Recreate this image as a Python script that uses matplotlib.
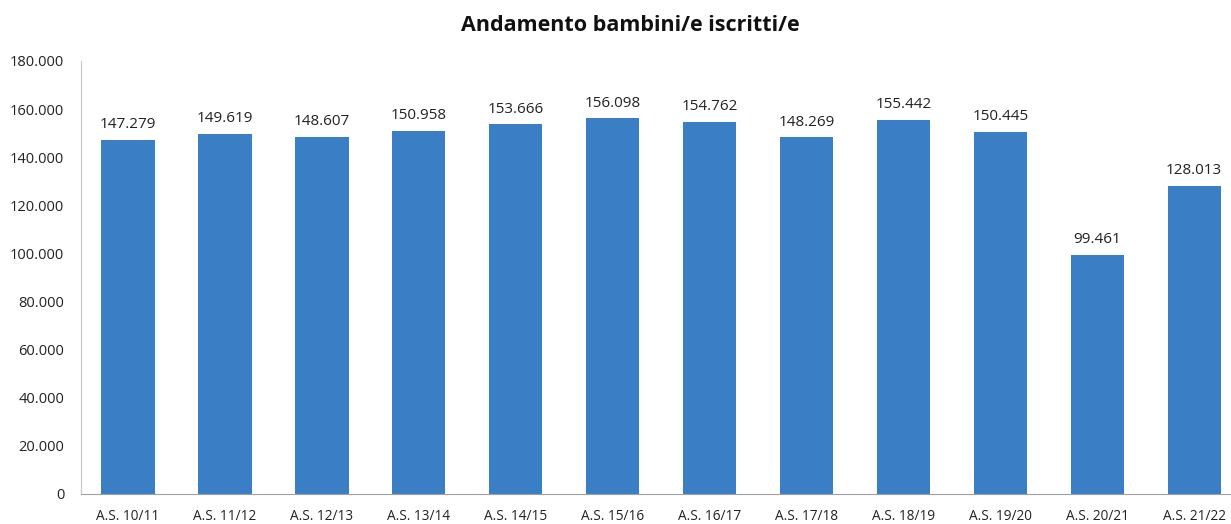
import matplotlib.pyplot as plt

# school years and enrolled children
years = ["A.S. 10/11", "A.S. 11/12", "A.S. 12/13", "A.S. 13/14", "A.S. 14/15", "A.S. 15/16",
         "A.S. 16/17", "A.S. 17/18", "A.S. 18/19", "A.S. 19/20", "A.S. 20/21", "A.S. 21/22"]
iscritti = [147279, 149619, 148607, 150958, 153666, 156098,
            154762, 148269, 155442, 150445, 99461, 128013]
y_ticks = [0, 20000, 40000, 60000, 80000, 100000, 120000, 140000, 160000, 180000]


def fmt_it(v):
    # italian thousands separator
    return f"{v:,}".replace(",", ".")


plt.rcParams['font.family'] = ['Open Sans', 'DejaVu Sans']

fig = plt.figure(figsize=(12.31, 5.24), dpi=100)
ax = fig.add_axes([0.0658, 0.0573, 0.9342, 0.8263])

x = list(range(len(years)))
bars = ax.bar(x, iscritti, width=0.55, color='#3a7fc6')

for xi, v in zip(x, iscritti):
    ax.text(xi, v + 3200, fmt_it(v), ha='center', va='bottom', fontsize=11, color='#222222')

ax.set_xlim(-0.485, 11.38)
ax.set_ylim(0, 180000)
ax.set_yticks(y_ticks)
ax.set_yticklabels([fmt_it(t) for t in y_ticks], fontsize=10.5, color='#222222')
ax.set_xticks(x)
ax.set_xticklabels(years, fontsize=9.8, color='#222222')
ax.tick_params(axis='y', length=0, pad=12)
ax.tick_params(axis='x', length=0, pad=11)

for s in ['top', 'right']:
    ax.spines[s].set_visible(False)
ax.spines['left'].set_color('#c8c8c8')
ax.spines['bottom'].set_color('#a0a0a0')

fig.text(0.512, 0.952, "Andamento bambini/e iscritti/e", ha='center', va='center',
         fontsize=15.5, fontweight='bold', color='#111111')

plt.savefig("out.png")
